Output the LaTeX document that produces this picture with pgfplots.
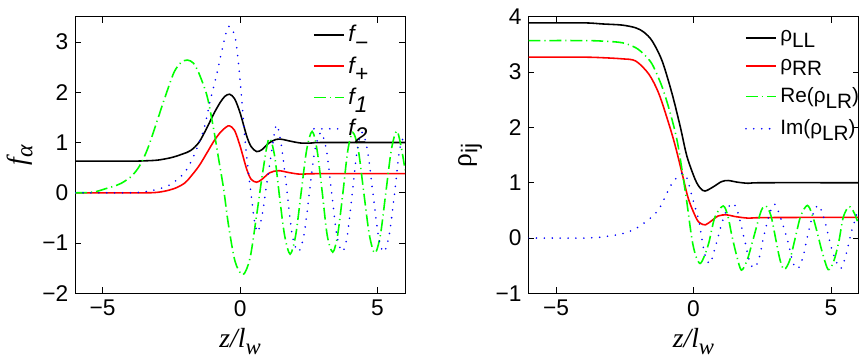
\documentclass[border=0pt]{standalone}
\usepackage{fontspec}
\setmainfont{Liberation Sans}
\newfontfamily\tnr{Liberation Serif}
\usepackage{pgfplots}
\pgfplotsset{compat=1.18}
\definecolor{mred}{RGB}{255,0,0}
\definecolor{mgreen}{RGB}{0,255,0}
\definecolor{mblue}{RGB}{0,0,255}

\pgfplotsset{
  panel/.style={
    width=167pt, height=140pt, scale only axis,
    xmin=-6, xmax=6, xtick={-5,0,5}, xticklabels={−5,0,5},
    tick align=inside, tick pos=both, major tick length=3pt,
    tick style={black, line width=0.4pt},
    axis line style={line width=0.5pt},
    ticklabel style={font=\fontsize{11.5}{12}\selectfont},
    xlabel={\fontsize{14}{14}\selectfont\tnr\itshape z/l\raisebox{-0.6ex}{\fontsize{11.5}{11}\selectfont w}},
    xlabel style={yshift=1pt},
    legend style={draw=none, fill=none, inner sep=0pt, anchor=north west,
      font=\fontsize{11.5}{12}\selectfont, row sep=2pt},
    legend cell align=left,
    legend image code/.code={\draw[#1, sharp plot] (0pt,0pt) -- (15pt,0pt);},
  },
  sblack/.style={black, line width=0.8pt, smooth, tension=0.5},
  sred/.style={mred, line width=0.8pt, smooth, tension=0.5},
  sgreen/.style={mgreen, line width=0.8pt, smooth, tension=0.5, dash pattern=on 6pt off 2pt on 0.6pt off 2pt},
  sblue/.style={mblue, line width=0.9pt, smooth, tension=0.5, line cap=round, dash pattern=on 0pt off 4pt},
}

\begin{document}
\begin{tikzpicture}
\begin{axis}[panel, at={(0,0)},
  ymin=-2, ymax=3.5, ytick={-2,-1,0,1,2,3}, yticklabels={−2,−1,0,1,2,3},
  ylabel={\fontsize{14}{14}\selectfont\tnr\itshape f\raisebox{-0.5ex}{\fontsize{12}{12}\selectfont α}},
  ylabel style={yshift=-2pt},
  legend style={at={(0.72,0.985)}}]
\addplot[sblack] coordinates {(-6,0.63) (-4,0.63) (-3.5,0.635) (-3,0.65) (-2.5,0.70) (-2.1,0.77) (-1.8,0.84) (-1.5,1.0) (-1.2,1.30) (-0.95,1.58) (-0.72,1.80) (-0.55,1.92) (-0.38,1.96) (-0.2,1.87) (0,1.59) (0.24,1.13) (0.4,0.92) (0.6,0.82) (0.8,0.86) (1.05,0.99) (1.3,1.06) (1.5,1.065) (1.8,1.03) (2.2,0.99) (2.6,0.99) (3,1.0) (6,1.0)};
\addlegendentry{\itshape f\raisebox{-0.7ex}{−}}
\addplot[sred] coordinates {(-6,0) (-3.5,0.0) (-3,0.01) (-2.6,0.05) (-2.28,0.11) (-2,0.2) (-1.8,0.32) (-1.5,0.53) (-1.2,0.80) (-0.95,1.03) (-0.72,1.20) (-0.5,1.31) (-0.38,1.33) (-0.2,1.24) (0,0.93) (0.24,0.47) (0.4,0.27) (0.6,0.21) (0.8,0.27) (1.08,0.40) (1.4,0.44) (1.8,0.40) (2.2,0.37) (2.8,0.38) (6,0.38)};
\addlegendentry{\itshape f\raisebox{-0.7ex}{+}}
\addplot[sgreen] coordinates {(-6,0) (-5.5,0.005) (-5.2,0.03) (-4.9,0.08) (-4.6,0.13) (-4.32,0.19) (-3.95,0.33) (-3.65,0.54) (-3.36,0.88) (-3.0,1.46) (-2.7,1.95) (-2.4,2.40) (-2.15,2.59) (-1.92,2.64) (-1.70,2.58) (-1.50,2.38) (-1.2,1.92) (-0.96,1.26) (-0.78,0.67) (-0.60,0.08) (-0.42,-0.65) (-0.18,-1.37) (0.10,-1.63) (0.36,-1.30) (0.60,-0.45) (0.84,0.47) (1.05,1.08) (1.25,0.75) (1.45,-0.15) (1.62,-0.85) (1.82,-1.22) (2.02,-0.85) (2.22,0.0) (2.42,0.85) (2.62,1.22) (2.80,0.85) (2.99,0.0) (3.17,-0.85) (3.37,-1.18) (3.55,-0.83) (3.74,0.0) (3.92,0.85) (4.10,1.20) (4.30,0.85) (4.50,0.0) (4.70,-0.83) (4.90,-1.20) (5.10,-0.85) (5.30,0.0) (5.50,0.85) (5.70,1.23) (5.88,0.85) (6.00,0.45)};
\addlegendentry{\itshape f\raisebox{-0.7ex}{1}}
\addplot[sblue] coordinates {(-6,0) (-4,0.0) (-3.5,0.02) (-3,0.07) (-2.52,0.17) (-2.04,0.39) (-1.68,0.74) (-1.32,1.26) (-1.08,1.85) (-0.84,2.38) (-0.66,2.84) (-0.50,3.20) (-0.38,3.31) (-0.18,3.10) (-0.06,2.58) (0.06,1.85) (0.18,1.06) (0.30,0.41) (0.42,-0.12) (0.52,-0.55) (0.64,-0.78) (0.80,-0.45) (0.96,0.14) (1.14,0.80) (1.32,1.35) (1.50,0.95) (1.70,0.05) (1.90,-0.85) (2.12,-1.17) (2.32,-0.85) (2.52,0.0) (2.72,0.85) (2.94,1.20) (3.14,0.85) (3.33,0.0) (3.52,-0.85) (3.72,-1.17) (3.90,-0.85) (4.08,0.0) (4.26,0.85) (4.44,1.20) (4.63,0.85) (4.83,0.0) (5.03,-0.85) (5.22,-1.18) (5.42,-0.85) (5.62,0.0) (5.80,0.85) (6.00,1.18)};
\addlegendentry{\itshape f\raisebox{-0.7ex}{2}}
\end{axis}

\begin{axis}[panel, at={(229.5pt,0)},
  ymin=-1, ymax=4, ytick={-1,0,1,2,3,4}, yticklabels={−1,0,1,2,3,4},
  ylabel={\fontsize{14}{14}\selectfont\tnr ρ\raisebox{-0.5ex}{\fontsize{11.5}{11}\selectfont\rmfamily ij}},
  legend style={at={(0.655,0.965)}, row sep=3.2pt, font=\fontsize{10.5}{11}\selectfont}]
\addplot[sblack] coordinates {(-6,3.89) (-4,3.89) (-3.3,3.87) (-2.6,3.85) (-2.1,3.80) (-1.8,3.72) (-1.5,3.56) (-1.14,3.20) (-0.78,2.61) (-0.48,2.01) (-0.24,1.48) (0.06,1.06) (0.25,0.90) (0.42,0.85) (0.7,0.92) (1.02,1.02) (1.26,1.04) (1.6,1.01) (2.0,0.99) (2.5,1.0) (6,1.0)};
\addlegendentry{ρ\raisebox{-0.5ex}{LL}}
\addplot[sred] coordinates {(-6,3.27) (-4,3.27) (-3.3,3.26) (-2.6,3.24) (-2.1,3.20) (-1.62,2.96) (-1.26,2.61) (-0.9,2.07) (-0.66,1.66) (-0.42,1.18) (-0.18,0.70) (0.12,0.34) (0.28,0.26) (0.44,0.24) (0.65,0.31) (0.9,0.40) (1.2,0.42) (1.5,0.39) (2.0,0.36) (2.6,0.37) (6,0.375)};
\addlegendentry{ρ\raisebox{-0.5ex}{RR}}
\addplot[sgreen] coordinates {(-6,3.57) (-4,3.57) (-3.3,3.56) (-2.58,3.53) (-2.1,3.44) (-1.8,3.32) (-1.5,3.14) (-1.14,2.73) (-0.84,2.25) (-0.6,1.77) (-0.42,1.24) (-0.24,0.64) (-0.06,-0.01) (0.08,-0.32) (0.24,-0.46) (0.40,-0.32) (0.56,-0.08) (0.78,0.38) (1.08,0.58) (1.25,0.40) (1.38,0.08) (1.56,-0.30) (1.74,-0.58) (1.95,-0.40) (2.16,-0.04) (2.46,0.49) (2.64,0.58) (2.82,0.40) (3.0,-0.04) (3.15,-0.40) (3.30,-0.57) (3.50,-0.40) (3.70,0.0) (3.90,0.40) (4.14,0.59) (4.32,0.42) (4.50,0.10) (4.68,-0.25) (4.90,-0.57) (5.10,-0.42) (5.28,-0.08) (5.45,0.38) (5.66,0.57) (5.85,0.45) (6.0,0.25)};
\addlegendentry{Re(ρ\raisebox{-0.5ex}{LR})}
\addplot[sblue] coordinates {(-6,0) (-4,0.0) (-3.3,0.02) (-2.58,0.08) (-2.1,0.17) (-1.62,0.34) (-1.26,0.52) (-0.9,0.88) (-0.72,1.03) (-0.42,1.17) (-0.24,1.09) (-0.06,0.76) (0.18,0.34) (0.30,0.0) (0.42,-0.31) (0.60,-0.46) (0.80,-0.15) (1.02,0.25) (1.22,0.52) (1.44,0.63) (1.62,0.45) (1.86,-0.04) (2.04,-0.42) (2.20,-0.54) (2.38,-0.38) (2.55,0.02) (2.78,0.46) (2.96,0.61) (3.18,0.35) (3.42,-0.04) (3.62,-0.45) (3.80,-0.55) (3.98,-0.35) (4.14,0.02) (4.36,0.45) (4.56,0.59) (4.78,0.30) (5.04,-0.22) (5.33,-0.55) (5.52,-0.35) (5.76,0.14) (6.0,0.52)};
\addlegendentry{Im(ρ\raisebox{-0.5ex}{LR})}
\end{axis}
\path[use as bounding box] (-33pt,-35.5pt) rectangle (398.5pt,148.5pt);
\end{tikzpicture}
\end{document}
